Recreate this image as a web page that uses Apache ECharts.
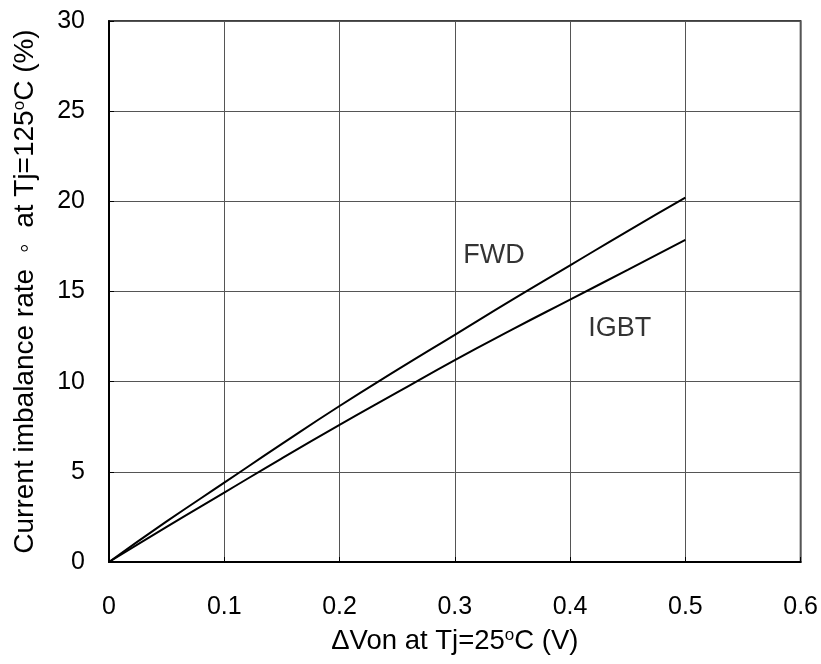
<!DOCTYPE html>
<html><head><meta charset="utf-8">
<script src="https://cdn.jsdelivr.net/npm/echarts@6/dist/echarts.min.js"></script>
<style>html,body{margin:0;padding:0;background:#fff}#c{width:821px;height:664px}</style>
</head><body><div id="c"></div>
<script>
const xValues = [0, 0.05, 0.1, 0.15, 0.2, 0.25, 0.3, 0.35, 0.4, 0.45, 0.5];
const fwdValues = [0, 2.25, 4.4, 6.55, 8.65, 10.65, 12.6, 14.55, 16.45, 18.35, 20.2];
const igbtValues = [0, 1.95, 3.85, 5.75, 7.6, 9.4, 11.2, 12.9, 14.55, 16.2, 17.86];
const xTicks = [0, 0.1, 0.2, 0.3, 0.4, 0.5, 0.6];
const yTicks = [0, 5, 10, 15, 20, 25, 30];
const seriesLabels = [{name:'FWD', x:0.334, y:17.0}, {name:'IGBT', x:0.443, y:12.95}];

const font = '"Liberation Sans", Arial, sans-serif';
const chart = echarts.init(document.getElementById('c'));
const pair = (xs, ys) => xs.map((x, i) => [x, ys[i]]);
const supStyle = size => ({fontFamily: font, fontSize: size, color: '#000', verticalAlign: 'top', padding: [0,0,Math.round(size*0.6),0]});
chart.setOption({
  animation: false,
  grid: {left: 109, right: 20, top: 21, bottom: 102, show: true, borderColor: '#000', borderWidth: 1.7},
  xAxis: {
    type: 'value', min: 0, max: 0.6, interval: 0.1,
    name: '\u0394Von at Tj=25{sup|o}C (V)',
    nameLocation: 'middle', nameGap: 65,
    nameTextStyle: {fontFamily: font, fontSize: 27.5, color: '#000', rich: {sup: supStyle(17)}},
    axisLine: {lineStyle: {color: '#000', width: 2}},
    axisTick: {show: true, inside: true, length: 5, lineStyle: {color: '#000'}},
    axisLabel: {fontFamily: font, fontSize: 25, color: '#000', margin: 33,
      formatter: v => { const t = xTicks.find(k => Math.abs(k - v) < 1e-9); return t === undefined ? '' : String(t); }},
    splitLine: {show: true, lineStyle: {color: '#555', width: 1}}
  },
  yAxis: {
    type: 'value', min: 0, max: 30, interval: 5,
    name: 'Current imbalance rate  \u25E6  at Tj=125{sup|o}C (%)',
    nameLocation: 'middle', nameGap: 70,
    nameTextStyle: {fontFamily: font, fontSize: 28, color: '#000', rich: {sup: supStyle(17)}},
    axisLine: {lineStyle: {color: '#000', width: 2}},
    axisTick: {show: true, inside: true, length: 5, lineStyle: {color: '#000'}},
    axisLabel: {fontFamily: font, fontSize: 25, color: '#000', margin: 24,
      formatter: v => { const t = yTicks.find(k => Math.abs(k - v) < 1e-9); return t === undefined ? '' : String(t); }},
    splitLine: {show: true, lineStyle: {color: '#555', width: 1}}
  },
  series: [
    {name: 'FWD', type: 'line', data: pair(xValues, fwdValues), showSymbol: false, smooth: true,
      lineStyle: {color: '#000', width: 2}},
    {name: 'IGBT', type: 'line', data: pair(xValues, igbtValues), showSymbol: false, smooth: true,
      lineStyle: {color: '#000', width: 2}},
    {type: 'scatter', symbolSize: 0, data: seriesLabels.map(l => ({value: [l.x, l.y], name: l.name})),
      label: {show: true, position: 'inside', formatter: p => p.name, fontFamily: font, fontSize: 27, color: '#000'},
      silent: true}
  ]
});
</script></body></html>
